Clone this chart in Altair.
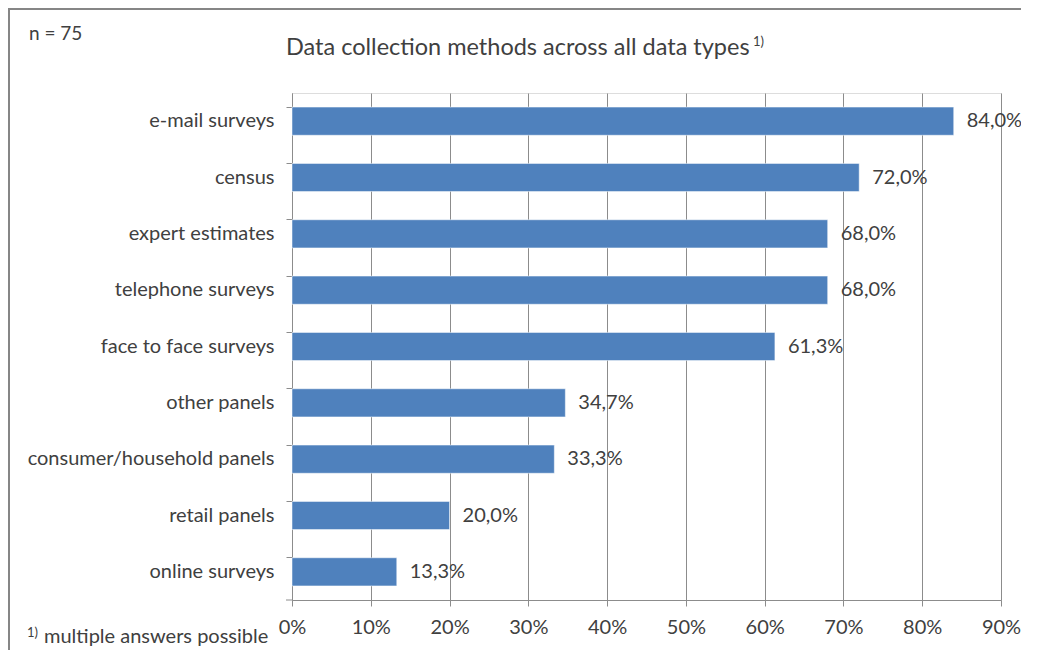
import altair as alt
import pandas as pd

categories = ["e-mail surveys", "census", "expert estimates", "telephone surveys",
              "face to face surveys", "other panels", "consumer/household panels",
              "retail panels", "online surveys"]
values = [84.0, 72.0, 68.0, 68.0, 61.3, 34.7, 33.3, 20.0, 13.3]
x_ticks = [0, 10, 20, 30, 40, 50, 60, 70, 80, 90]

df = pd.DataFrame({
    "method": categories,
    "share": values,
    "label": [f"{v:.1f}".replace(".", ",") + "%" for v in values],
})

FONT = "Lato"
TXT = "#404040"
GRID = "#8c8c8c"
W, H = 709, 507

y_enc = alt.Y("method:N", sort=categories,
              scale=alt.Scale(paddingInner=0.5, paddingOuter=0.25),
              axis=alt.Axis(title=None, labelFont=FONT, labelFontSize=20,
                            labelColor=TXT, labelPadding=12, tickSize=6,
                            tickColor=GRID, domainColor=GRID, bandPosition=0,
                            grid=False, labelLimit=300))
x_enc = alt.X("share:Q", scale=alt.Scale(domain=[0, 90], nice=False),
              axis=alt.Axis(title=None, values=x_ticks, labelExpr="datum.value + '%'",
                            labelFont=FONT, labelFontSize=20, labelColor=TXT,
                            labelPadding=11, tickSize=6, tickColor=GRID,
                            labelFlush=False, labelOverlap=False,
                            domainColor=GRID, grid=True, gridColor=GRID,
                            gridOpacity=1))

base = alt.Chart(df)

bars = base.mark_bar(color="#4F81BD", stroke="#ffffff", strokeWidth=0.5).encode(
    x=x_enc, y=y_enc)

labels = base.mark_text(align="left", baseline="middle", dx=13, font=FONT,
                        fontSize=20, color=TXT).encode(
    x="share:Q", y=alt.Y("method:N", sort=categories), text="label:N")

annot = pd.DataFrame({"dummy": [0]})
ab = alt.Chart(annot)

bottom_tick = ab.mark_rule(color=GRID).encode(
    x=alt.value(-6), x2=alt.value(0), y=alt.value(H))

title = ab.mark_text(align="left", baseline="alphabetic", font=FONT, fontSize=23.5,
                     color=TXT, text="Data collection methods across all data types").encode(
    x=alt.value(-6), y=alt.value(-38))
title_sup = ab.mark_text(align="left", baseline="alphabetic", font=FONT, fontSize=13,
                         color=TXT, text="1)").encode(
    x=alt.value(461), y=alt.value(-47))
n_txt = ab.mark_text(align="left", baseline="alphabetic", font=FONT, fontSize=19,
                     color=TXT, text="n = 75").encode(
    x=alt.value(-263), y=alt.value(-53))
foot_sup = ab.mark_text(align="left", baseline="alphabetic", font=FONT, fontSize=13,
                        color=TXT, text="1)").encode(
    x=alt.value(-265), y=alt.value(544))
foot = ab.mark_text(align="left", baseline="alphabetic", font=FONT, fontSize=20,
                    color=TXT, text="multiple answers possible").encode(
    x=alt.value(-248), y=alt.value(550))
frame_top = ab.mark_rule(color="#868686", strokeWidth=2).encode(
    x=alt.value(-284), x2=alt.value(800), y=alt.value(-84))
frame_left = ab.mark_rule(color="#868686", strokeWidth=2).encode(
    x=alt.value(-283), y=alt.value(-85), y2=alt.value(620))

chart = alt.layer(frame_top, frame_left, bars, labels, bottom_tick, title, title_sup,
                  n_txt, foot_sup, foot).properties(
    width=W, height=H,
    autosize=alt.AutoSizeParams(type="none"),
    padding={"left": 284, "top": 85, "right": 20, "bottom": 50},
).configure_view(stroke=None).configure(background="white")

chart.save("out.html", embed_options={"renderer": "svg", "actions": False})
